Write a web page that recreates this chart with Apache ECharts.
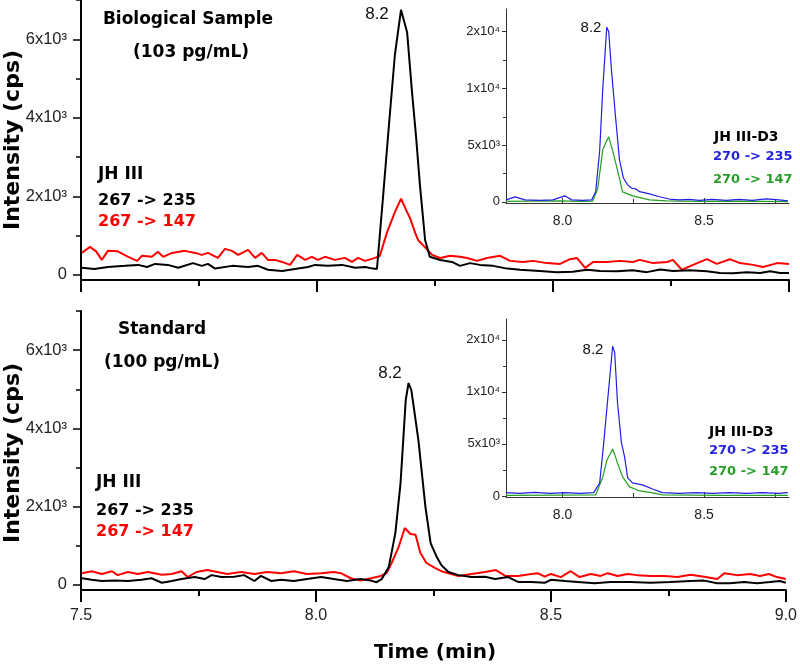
<!DOCTYPE html>
<html><head><meta charset="utf-8">
<script src="https://cdn.jsdelivr.net/npm/echarts@6/dist/echarts.min.js"></script>
<style>html,body{margin:0;padding:0;background:#fff}#c{width:800px;height:670px}</style>
</head><body><div id="c"></div>
<script>
// ---- tick values / labels ----
const mainXTicks = [7.5, 8.0, 8.5, 9.0];
const mainXLabels = ['7.5', '8.0', '8.5', '9.0'];
const mainXMinor = [7.75, 8.25, 8.75];
const mainYTicks = [0, 2000, 4000, 6000];
const mainYLabels = ['0', '2x10³', '4x10³', '6x10³'];
const mainYMinor = [1000, 3000, 5000, 7000];
const insetXTicks = [8.0, 8.5];
const insetXLabels = ['8.0', '8.5'];
const insetXMinor = [8.25, 8.75];
const insetYTicks = [0, 5000, 10000, 15000];
const insetYLabels = ['0', '5x10³', '1x10⁴', '2x10⁴'];
const insetYMinor = [2500, 7500, 12500];

// ---- Biological sample, JH III 267 -> 235 (black) ----
const bio235 = [[7.502,180],[7.528,150],[7.557,200],[7.593,230],[7.621,255],[7.640,200],[7.657,280],[7.684,255],[7.706,180],[7.737,300],[7.756,230],[7.769,280],[7.784,160],[7.820,230],[7.854,200],[7.875,230],[7.896,130],[7.926,100],[7.953,150],[7.981,200],[7.996,255],[8.023,230],[8.053,255],[8.081,180],[8.102,200],[8.119,160],[8.127,150],[8.140,2000],[8.153,3900],[8.165,5600],[8.178,6750],[8.191,6170],[8.201,4700],[8.210,3500],[8.218,2300],[8.229,890],[8.239,460],[8.261,380],[8.286,330],[8.303,230],[8.324,300],[8.345,255],[8.373,230],[8.403,160],[8.430,130],[8.472,100],[8.508,70],[8.542,80],[8.572,130],[8.600,100],[8.636,90],[8.669,120],[8.699,70],[8.727,140],[8.754,100],[8.790,120],[8.826,90],[8.854,50],[8.881,40],[8.911,70],[8.939,50],[8.960,90],[8.981,50],[9.000,50]];
// ---- Biological sample, JH III 267 -> 147 (red) ----
const bio147 = [[7.502,560],[7.519,714],[7.532,600],[7.544,382],[7.557,612],[7.578,600],[7.600,460],[7.619,357],[7.629,485],[7.650,460],[7.663,587],[7.674,460],[7.693,560],[7.720,612],[7.742,560],[7.756,510],[7.769,560],[7.790,433],[7.805,663],[7.820,612],[7.833,510],[7.854,637],[7.869,433],[7.883,560],[7.896,382],[7.911,382],[7.926,330],[7.943,255],[7.958,510],[7.975,382],[7.989,460],[8.002,382],[8.017,460],[8.038,382],[8.059,433],[8.074,330],[8.087,433],[8.102,357],[8.123,433],[8.133,480],[8.148,1070],[8.165,1600],[8.178,1940],[8.191,1600],[8.197,1450],[8.208,1070],[8.214,890],[8.229,700],[8.244,510],[8.261,430],[8.282,485],[8.303,460],[8.318,430],[8.339,357],[8.360,430],[8.388,485],[8.409,357],[8.436,330],[8.458,357],[8.487,300],[8.515,280],[8.536,400],[8.551,430],[8.568,180],[8.585,330],[8.614,330],[8.642,357],[8.669,330],[8.684,382],[8.712,300],[8.742,330],[8.754,382],[8.773,130],[8.797,255],[8.826,400],[8.847,280],[8.875,400],[8.896,300],[8.924,255],[8.945,200],[8.975,300],[9.000,280]];
// ---- Standard, JH III 267 -> 235 (black) ----
const std235 = [[7.502,170],[7.523,130],[7.544,100],[7.572,110],[7.600,100],[7.629,130],[7.650,170],[7.672,55],[7.693,100],[7.714,150],[7.742,200],[7.763,150],[7.778,250],[7.799,200],[7.826,210],[7.847,250],[7.869,100],[7.883,230],[7.905,100],[7.926,130],[7.953,100],[7.981,150],[8.011,200],[8.038,150],[8.066,100],[8.095,150],[8.117,110],[8.129,70],[8.140,150],[8.155,460],[8.169,1330],[8.180,2600],[8.191,4720],[8.197,5160],[8.203,4980],[8.218,3700],[8.233,1990],[8.244,1070],[8.256,740],[8.267,500],[8.282,330],[8.303,250],[8.331,200],[8.360,210],[8.381,150],[8.409,200],[8.430,75],[8.458,75],[8.487,55],[8.500,130],[8.530,100],[8.557,75],[8.593,40],[8.627,75],[8.669,75],[8.712,55],[8.754,75],[8.797,100],[8.826,110],[8.854,45],[8.881,45],[8.911,75],[8.939,45],[8.966,75],[8.987,100],[9.000,55]];
// ---- Standard, JH III 267 -> 147 (red) ----
const std147 = [[7.502,300],[7.523,350],[7.544,280],[7.566,350],[7.578,250],[7.600,330],[7.621,280],[7.642,330],[7.672,260],[7.693,280],[7.714,350],[7.727,200],[7.746,330],[7.769,380],[7.790,330],[7.811,280],[7.841,330],[7.869,280],[7.896,330],[7.926,300],[7.953,350],[7.981,280],[8.011,300],[8.038,330],[8.053,300],[8.074,170],[8.095,110],[8.117,170],[8.138,230],[8.150,300],[8.161,560],[8.176,970],[8.189,1455],[8.201,1300],[8.212,1280],[8.222,820],[8.235,560],[8.254,430],[8.267,350],[8.303,230],[8.331,280],[8.360,330],[8.383,380],[8.403,230],[8.430,230],[8.458,280],[8.472,300],[8.487,210],[8.500,280],[8.521,200],[8.542,350],[8.561,200],[8.585,280],[8.606,230],[8.621,300],[8.642,230],[8.663,280],[8.684,250],[8.712,230],[8.742,230],[8.769,200],[8.797,260],[8.826,210],[8.854,150],[8.869,300],[8.896,250],[8.924,280],[8.945,230],[8.964,280],[8.981,200],[9.000,150]];
// ---- Insets: JH III-D3 ----
const bioD3_235 = [[7.800,176],[7.832,440],[7.867,176],[7.920,130],[7.965,176],[8.008,530],[8.032,176],[8.071,130],[8.103,180],[8.117,900],[8.131,4500],[8.142,10000],[8.156,15400],[8.163,15000],[8.173,11500],[8.187,7500],[8.201,3700],[8.215,2100],[8.230,1500],[8.244,1200],[8.258,1150],[8.272,900],[8.307,700],[8.342,450],[8.377,250],[8.413,176],[8.448,220],[8.483,130],[8.529,220],[8.578,130],[8.624,220],[8.670,130],[8.719,260],[8.765,176],[8.796,90]];
const bioD3_147 = [[7.800,40],[7.885,60],[7.990,80],[8.061,50],[8.106,60],[8.124,1150],[8.142,4600],[8.156,5400],[8.163,5730],[8.177,4500],[8.191,3100],[8.212,880],[8.247,530],[8.307,180],[8.367,90],[8.483,40],[8.624,60],[8.796,30]];
const stdD3_235 = [[7.800,320],[7.849,250],[7.902,350],[7.955,250],[8.008,320],[8.061,250],[8.110,320],[8.131,1250],[8.145,5000],[8.156,8270],[8.177,14400],[8.184,13800],[8.194,8950],[8.208,5100],[8.219,3750],[8.230,1730],[8.247,1250],[8.282,1060],[8.318,670],[8.353,320],[8.413,250],[8.473,320],[8.529,250],[8.589,320],[8.649,250],[8.705,320],[8.765,250],[8.796,320]];
const stdD3_147 = [[7.800,60],[7.990,80],[8.117,100],[8.142,1830],[8.156,3400],[8.177,4520],[8.194,3170],[8.212,1830],[8.237,870],[8.272,480],[8.318,290],[8.353,100],[8.553,60],[8.796,50]];

const chart = echarts.init(document.getElementById('c'), null, {renderer: 'canvas'});
const FONT = 'Liberation Sans';
const BOLD = 'DejaVu Sans';

function lab(vals, labels) {
  return v => { const i = vals.findIndex(t => Math.abs(t - v) < 1e-9); return i >= 0 ? labels[i] : ''; };
}
function mainX(grid, showLabels) {
  return [
    {type:'value', gridIndex:grid, min:7.5, max:9.0, position:'bottom',
     axisLine:{show:true, onZero:false, lineStyle:{color:'#000', width:2}},
     axisTick:{show:true, inside:false, length:12, lineStyle:{color:'#000', width:2}, customValues: mainXTicks},
     axisLabel:{show:showLabels, customValues: mainXTicks, formatter: lab(mainXTicks, mainXLabels), fontFamily:FONT, fontSize:16, color:'#222', margin:18},
     splitLine:{show:false}},
    {type:'value', gridIndex:grid, min:7.5, max:9.0, position:'bottom',
     axisLine:{show:false, onZero:false},
     axisTick:{show:true, inside:false, length:6, lineStyle:{color:'#000', width:2}, customValues: mainXMinor},
     axisLabel:{show:false}, splitLine:{show:false}}
  ];
}
function mainY(grid) {
  return [
    {type:'value', gridIndex:grid, min:-130, max:7000, position:'left',
     axisLine:{show:true, onZero:false, lineStyle:{color:'#000', width:2}},
     axisTick:{show:true, length:8, lineStyle:{color:'#000', width:1.5}, customValues: mainYTicks},
     axisLabel:{show:true, customValues: mainYTicks, formatter: lab(mainYTicks, mainYLabels), fontFamily:FONT, fontSize:16.5, color:'#222', margin:14},
     splitLine:{show:false}},
    {type:'value', gridIndex:grid, min:-130, max:7000, position:'left',
     axisLine:{show:false, onZero:false},
     axisTick:{show:true, length:5, lineStyle:{color:'#000', width:1.5}, customValues: mainYMinor},
     axisLabel:{show:false}, splitLine:{show:false}}
  ];
}
function insetX(grid) {
  return [
    {type:'value', gridIndex:grid, min:7.8, max:8.8, position:'bottom',
     axisLine:{show:true, onZero:false, lineStyle:{color:'#333', width:1}},
     axisTick:{show:true, inside:true, length:5, lineStyle:{color:'#333', width:1}, customValues: insetXTicks},
     axisLabel:{show:true, customValues: insetXTicks, formatter: lab(insetXTicks, insetXLabels), fontFamily:FONT, fontSize:14, color:'#222', margin:11},
     splitLine:{show:false}},
    {type:'value', gridIndex:grid, min:7.8, max:8.8, position:'bottom',
     axisLine:{show:false, onZero:false},
     axisTick:{show:true, inside:true, length:4, lineStyle:{color:'#333', width:1}, customValues: insetXMinor},
     axisLabel:{show:false}, splitLine:{show:false}}
  ];
}
function insetY(grid) {
  return [
    {type:'value', gridIndex:grid, min:-100, max:17000, position:'left',
     axisLine:{show:true, onZero:false, lineStyle:{color:'#333', width:1}},
     axisTick:{show:true, length:4, lineStyle:{color:'#333', width:1}, customValues: insetYTicks},
     axisLabel:{show:true, customValues: insetYTicks, formatter: lab(insetYTicks, insetYLabels), fontFamily:FONT, fontSize:13, color:'#222', margin:6},
     splitLine:{show:false}},
    {type:'value', gridIndex:grid, min:-100, max:17000, position:'left',
     axisLine:{show:false, onZero:false},
     axisTick:{show:true, length:3, lineStyle:{color:'#333', width:1}, customValues: insetYMinor},
     axisLabel:{show:false}, splitLine:{show:false}}
  ];
}
function line(data, xi, yi, color, w, z) {
  return {type:'line', data:data, xAxisIndex:xi, yAxisIndex:yi, showSymbol:false, symbol:'none',
          lineStyle:{color:color, width:w}, itemStyle:{color:color}, z:z||2, animation:false, silent:true};
}
function txt(x, y, s, font, fill, align, rot) {
  const el = {type:'text', x:x, y:y, z:100, silent:true,
    style:{text:s, font:font, fill:fill, align:align||'left', verticalAlign:'middle'}};
  if (rot) el.rotation = rot;
  return el;
}

const option = {
  animation:false,
  backgroundColor:'#fff',
  grid:[
    {left:81, top:0, width:708, height:280},
    {left:81, top:311, width:708, height:279},
    {left:506, top:9, width:283, height:194},
    {left:506, top:319, width:283, height:178}
  ],
  xAxis:[...mainX(0,false), ...mainX(1,true), ...insetX(2), ...insetX(3)],
  yAxis:[...mainY(0), ...mainY(1), ...insetY(2), ...insetY(3)],
  series:[
    line(bio235, 0, 0, '#000', 2, 3),
    line(bio147, 0, 0, '#ff0000', 2, 2),
    line(std235, 2, 2, '#000', 2, 3),
    line(std147, 2, 2, '#ff0000', 2, 2),
    line(bioD3_147, 4, 4, '#22a022', 1.2, 2),
    line(bioD3_235, 4, 4, '#1f1fe6', 1.2, 3),
    line(stdD3_147, 6, 6, '#22a022', 1.2, 2),
    line(stdD3_235, 6, 6, '#1f1fe6', 1.2, 3)
  ],
  graphic:[
    txt(13, 140, 'Intensity (cps)', 'bold 22px "'+BOLD+'"', '#000', 'center', Math.PI/2),
    txt(13, 453, 'Intensity (cps)', 'bold 22px "'+BOLD+'"', '#000', 'center', Math.PI/2),
    txt(435, 653, 'Time (min)', 'bold 20px "'+BOLD+'"', '#000', 'center'),
    txt(188, 20, 'Biological Sample', 'bold 17px "'+BOLD+'"', '#000', 'center'),
    txt(191, 53, '(103 pg/mL)', 'bold 17px "'+BOLD+'"', '#000', 'center'),
    txt(98, 175, 'JH III', 'bold 17px "'+BOLD+'"', '#000'),
    txt(98, 201, '267 -> 235', 'bold 16px "'+BOLD+'"', '#000'),
    txt(98, 222, '267 -> 147', 'bold 16px "'+BOLD+'"', '#ff0000'),
    txt(162, 330, 'Standard', 'bold 17px "'+BOLD+'"', '#000', 'center'),
    txt(162, 363, '(100 pg/mL)', 'bold 17px "'+BOLD+'"', '#000', 'center'),
    txt(96, 483, 'JH III', 'bold 17px "'+BOLD+'"', '#000'),
    txt(96, 511, '267 -> 235', 'bold 16px "'+BOLD+'"', '#000'),
    txt(96, 532, '267 -> 147', 'bold 16px "'+BOLD+'"', '#ff0000'),
    txt(377, 14, '8.2', '17px "'+FONT+'"', '#111', 'center'),
    txt(390, 373, '8.2', '17px "'+FONT+'"', '#111', 'center'),
    txt(591, 28, '8.2', '15px "'+FONT+'"', '#111', 'center'),
    txt(593, 350, '8.2', '15px "'+FONT+'"', '#111', 'center'),
    txt(714, 137, 'JH III-D3', 'bold 14px "'+BOLD+'"', '#000'),
    txt(713, 157, '270 -> 235', 'bold 13px "'+BOLD+'"', '#2424e0'),
    txt(713, 180, '270 -> 147', 'bold 13px "'+BOLD+'"', '#2a9e2a'),
    txt(709, 432, 'JH III-D3', 'bold 14px "'+BOLD+'"', '#000'),
    txt(709, 451, '270 -> 235', 'bold 13px "'+BOLD+'"', '#2424e0'),
    txt(709, 472, '270 -> 147', 'bold 13px "'+BOLD+'"', '#2a9e2a')
  ]
};
chart.setOption(option);
</script>
</body></html>
